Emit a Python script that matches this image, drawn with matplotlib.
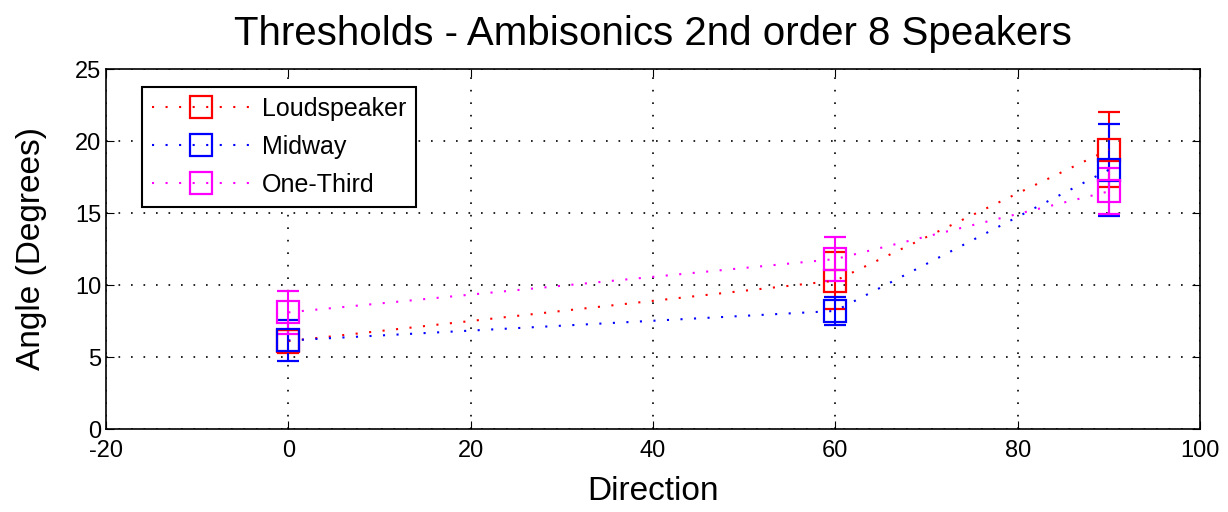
import numpy as np
import matplotlib.pyplot as plt
from matplotlib.lines import Line2D

plt.rcParams['font.family'] = ['Liberation Sans', 'DejaVu Sans']
plt.rcParams['axes.unicode_minus'] = False

# ---- data ----
direction = [0, 60, 90]

loud_mean = [6.1, 10.3, 19.4]
loud_err = [0.8, 2.0, 2.6]

mid_mean = [6.15, 8.2, 18.0]
mid_err = [1.4, 1.0, 3.2]

third_mean = [8.1, 11.8, 16.5]
third_err = [1.5, 1.5, 1.6]

series = [
    ('Loudspeaker', loud_mean, loud_err, '#ff0000'),
    ('Midway', mid_mean, mid_err, '#0000ff'),
    ('One-Third', third_mean, third_err, '#ff00ff'),
]

fig = plt.figure(figsize=(12.28, 5.12), dpi=100)
ax = fig.add_axes([106 / 1228, 1 - 429 / 512, 1094 / 1228, 360 / 512])

dots = (0, (1, 5.5))
handles = []
for name, m, e, col in series:
    ax.errorbar(direction, m, yerr=e, fmt='s', linestyle=dots,
                linewidth=1.5, color=col, ecolor=col,
                mfc='none', mec=col, markersize=16, mew=1.6,
                elinewidth=1.5, capsize=8, capthick=1.5)
    handles.append(Line2D([], [], color=col, linestyle=dots, linewidth=1.5,
                          marker='s', markersize=16, mfc='none', mec=col,
                          mew=1.6, label=name))

ax.set_xlim(-20, 100)
ax.set_ylim(0, 25)
ax.set_xticks(np.arange(-20, 101, 20))
ax.set_yticks(np.arange(0, 26, 5))
ax.grid(True, color='black', linestyle=(0, (1, 6.5)), linewidth=1.2)
ax.tick_params(direction='in', labelsize=17, length=6, top=True, right=True)
ax.tick_params(axis='x', pad=8)
for s in ax.spines.values():
    s.set_linewidth(1.2)

ax.set_title('Thresholds - Ambisonics 2nd order 8 Speakers', fontsize=29, pad=17)
ax.set_xlabel('Direction', fontsize=24, labelpad=10)
ax.set_ylabel('Angle (Degrees)', fontsize=24, labelpad=20)

leg = ax.legend(handles=handles, loc='upper left', bbox_to_anchor=(0.033, 0.95),
                borderaxespad=0, fontsize=18,
                fancybox=False, edgecolor='black', framealpha=1,
                numpoints=1, handlelength=3.9, handletextpad=0.5,
                borderpad=0.4, labelspacing=0.55)
leg.get_frame().set_linewidth(1.5)

plt.savefig('out.png', dpi=100)
